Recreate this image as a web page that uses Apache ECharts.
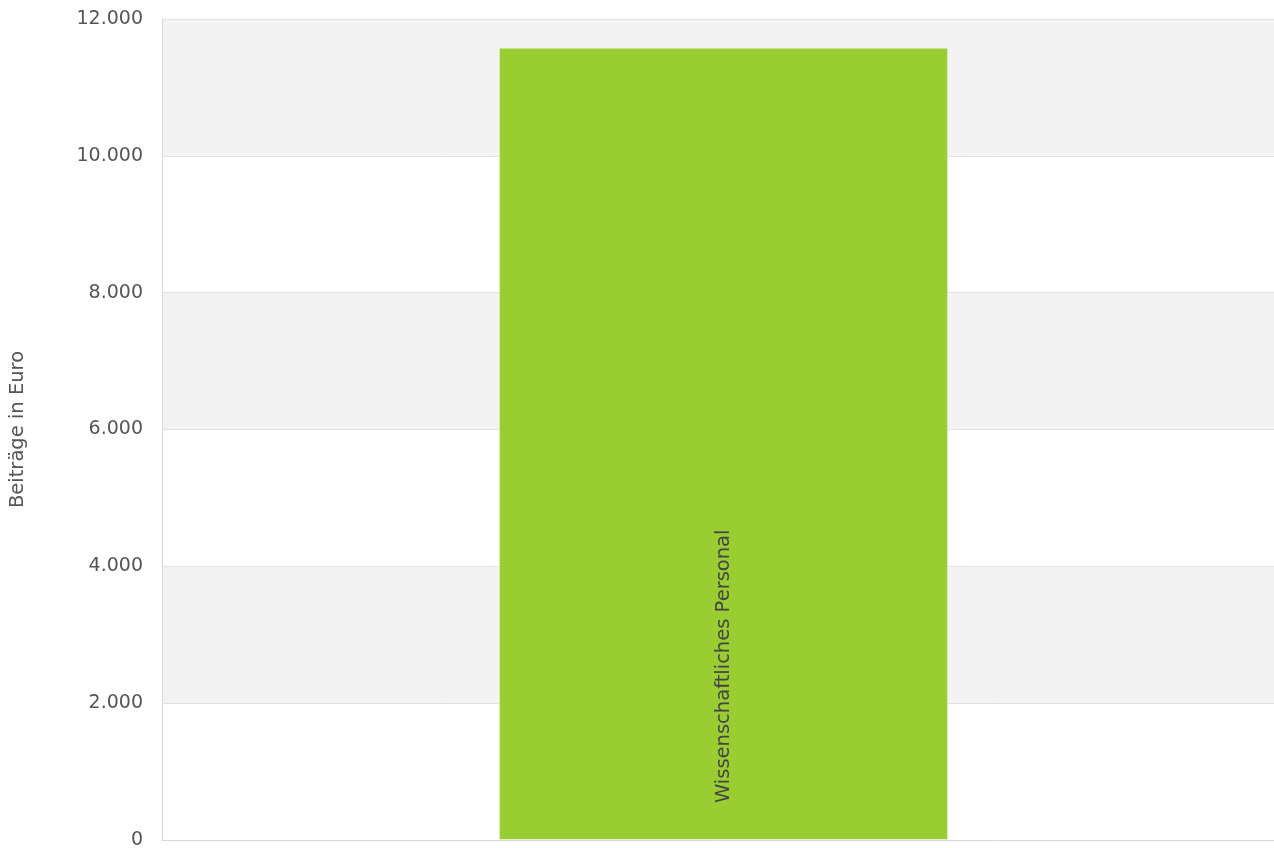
<!DOCTYPE html>
<html>
<head>
<meta charset="utf-8">
<script src="https://cdn.jsdelivr.net/npm/echarts@6/dist/echarts.min.js"></script>
<style>
html,body{margin:0;padding:0;background:#fff;}
#chart{width:1274px;height:848px;}
</style>
</head>
<body>
<div id="chart"></div>
<script>
var categories = ['Wissenschaftliches Personal'];
var values = [11580];
var yTicks = { min: 0, max: 12000, interval: 2000 };
var yAxisName = 'Beiträge in Euro';

var chart = echarts.init(document.getElementById('chart'), null, { renderer: 'canvas' });
chart.setOption({
  animation: false,
  textStyle: { fontFamily: 'DejaVu Sans' },
  grid: { left: 162, top: 19, height: 821, width: 1123, outerBoundsMode: 'none', containLabel: false },
  xAxis: {
    type: 'category',
    data: categories,
    axisLine: { show: true, lineStyle: { color: '#d8d8d8', width: 1 } },
    axisTick: { show: false },
    axisLabel: { show: false },
    splitLine: { show: false }
  },
  yAxis: {
    type: 'value',
    min: yTicks.min,
    max: yTicks.max,
    interval: yTicks.interval,
    name: yAxisName,
    nameLocation: 'middle',
    nameGap: 134,
    nameRotate: 90,
    nameTextStyle: { color: '#555', fontSize: 19.5, fontFamily: 'DejaVu Sans' },
    axisLine: { show: true, lineStyle: { color: '#d8d8d8', width: 1 } },
    axisTick: { show: false },
    axisLabel: {
      color: '#555',
      fontSize: 19,
      margin: 19,
      fontFamily: 'DejaVu Sans',
      formatter: function (v) { return v.toString().replace(/\B(?=(\d{3})+(?!\d))/g, '.'); }
    },
    splitLine: { show: true, lineStyle: { color: '#e2e2e2', width: 1 } },
    splitArea: { show: true, areaStyle: { color: ['#ffffff', '#f3f3f3'] } }
  },
  series: [{
    type: 'bar',
    data: values,
    barWidth: '40%',
    itemStyle: { color: '#9acd32', borderColor: 'rgba(255,255,255,0.45)', borderWidth: 1 },
    label: {
      show: true,
      position: 'insideBottom',
      rotate: 90,
      distance: 37,
      align: 'left',
      verticalAlign: 'middle',
      formatter: function (p) { return p.name; },
      color: '#444',
      fontSize: 19.5,
      fontFamily: 'DejaVu Sans'
    }
  }]
});
</script>
</body>
</html>
